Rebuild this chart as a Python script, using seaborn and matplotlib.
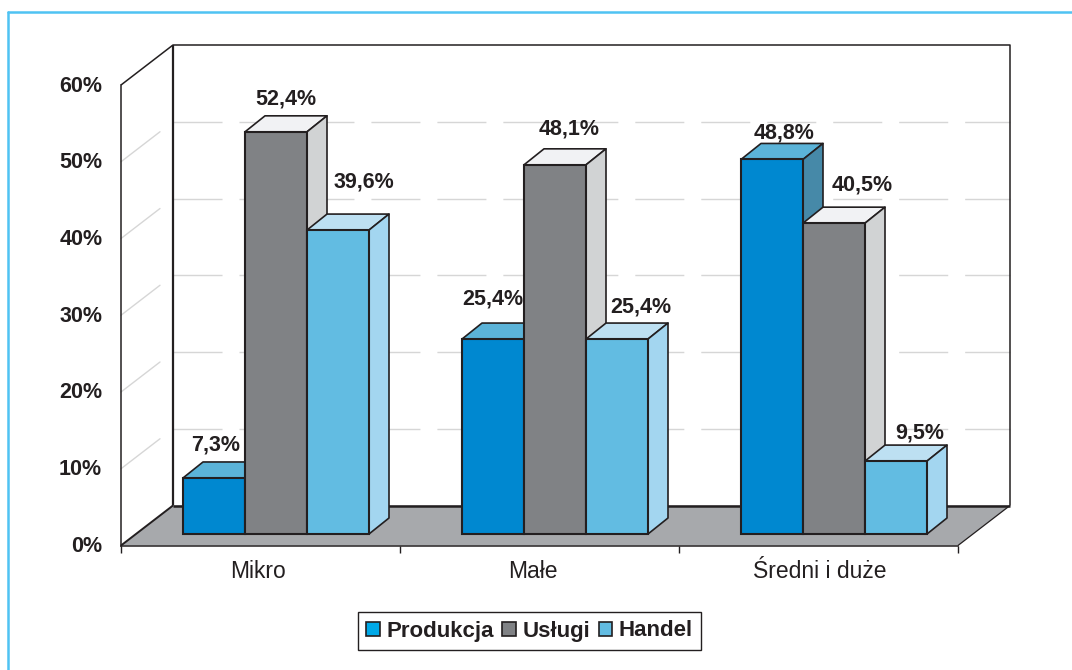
import matplotlib
matplotlib.use("Agg")
import matplotlib.pyplot as plt
from matplotlib.lines import Line2D
from matplotlib.patches import Patch, Polygon
from matplotlib.transforms import ScaledTranslation
import pandas as pd
import seaborn as sns

categories = ["Mikro", "Małe", "Średni i duże"]
series = ["Produkcja", "Usługi", "Handel"]
produkcja = [7.3, 25.4, 48.8]
uslugi = [52.4, 48.1, 40.5]
handel = [39.6, 25.4, 9.5]
value_labels = [["7,3%", "25,4%", "48,8%"],
                ["52,4%", "48,1%", "40,5%"],
                ["39,6%", "25,4%", "9,5%"]]
y_ticks = [0, 10, 20, 30, 40, 50, 60]

# styling
W, H = 1072, 670
INK = "#231F20"
front = ["#0088D0", "#808285", "#62BCE2"]
top = ["#5BB3D8", "#F1F2F4", "#BDE0F2"]
side = ["#4689A8", "#D1D3D4", "#A3D6F0"]
legend_cols = ["#00A9E8", "#808285", "#62BCE2"]
# label offsets from the middle of each bar's front top edge, in pixels
label_offsets = [[(2, 33), (0, 40), (12, 26)],
                 [(10, 33), (14, 36), (28, 38)],
                 [(26, 48), (24, 32), (24, 28)]]
# horizontal nudges of the category labels, in pixels
xlabel_nudge = [-3, -7, 1]

sns.set_theme(style="white")
plt.rcParams["font.family"] = ["Liberation Sans", "DejaVu Sans"]
plt.rcParams["lines.scale_dashes"] = False

fig = plt.figure(figsize=(W / 100, H / 100), dpi=100)
ax = fig.add_axes([121 / W, 1 - 545.5 / H, (958 - 121) / W, (545.5 - 85) / H])

df = pd.DataFrame({"Kategoria": categories, "Produkcja": produkcja,
                   "Usługi": uslugi, "Handel": handel}).melt(
    id_vars="Kategoria", var_name="Sektor", value_name="Udział")
sns.barplot(data=df, x="Kategoria", y="Udział", hue="Sektor", hue_order=series,
            order=categories, palette=front, width=2 / 3, gap=0, legend=False,
            saturation=1, ax=ax, errorbar=None)
ax.set_xlim(-0.5, 2.5)
ax.set_ylim(0, 60)
ax.set_xlabel("")
ax.set_ylabel("")

# depth vectors in data units
px_x = 3 / (958 - 121)
px_y = 60 / (545.5 - 85)
DX, DY = 52 * px_x, 40 * px_y      # depth of the floor
bx, by = 15.5 * px_x, 11.5 * px_y  # bar front offset from chart front
dx, dy = 20 * px_x, 16 * px_y      # bar depth
x0, x1 = -0.5, 2.5

# floor
ax.add_patch(Polygon([(x0, 0), (x1, 0), (x1 + DX, DY), (x0 + DX, DY)], closed=True,
                     fc="#A7A9AC", ec="none", zorder=1, clip_on=False))
# wall grid lines
for v in y_ticks[1:-1]:
    ax.plot([x0 + DX, x1 + DX], [v + DY, v + DY], color="#D6D6D6", lw=1.0, zorder=0.5,
            ls=(0, (35.3, 12.2)), clip_on=False, dash_capstyle="butt")
    ax.plot([x0, x0 + 0.75 * DX], [v, v + 0.75 * DY], color="#D6D6D6", lw=1.0, zorder=0.5,
            clip_on=False)
# wall outline
outline = dict(color=INK, clip_on=False, solid_capstyle="butt")
ax.plot([x0 + DX, x0 + DX], [DY, 60 + DY], lw=1.6, zorder=0.8, **outline)
ax.plot([x0, x0 + DX, x1 + DX, x1 + DX], [60, 60 + DY, 60 + DY, DY], lw=1.1, zorder=0.8, **outline)
ax.plot([x0 + DX, x1 + DX], [DY, DY], lw=1.8, zorder=1.2, **outline)
ax.plot([x0, x0 + DX], [0, DY], lw=1.4, zorder=1.2, **outline)
ax.plot([x1, x1 + DX], [0, DY], lw=0.9, zorder=1.2, **outline)

# 3D bars
z = 2.0
for c in range(len(categories)):
    for s, container in enumerate(ax.containers):
        bar = container.patches[c]
        left = bar.get_x() + bx
        w = bar.get_width()
        h = bar.get_height()
        bar.set_x(left)
        bar.set_y(by)
        bar.set(edgecolor=INK, linewidth=1.5, zorder=z + 0.2, clip_on=False)
        ax.add_patch(Polygon([(left, by + h), (left + w, by + h), (left + w + dx, by + h + dy), (left + dx, by + h + dy)],
                             closed=True, fc=top[s], ec=INK, lw=1.2, zorder=z + 0.1, clip_on=False, joinstyle="round"))
        ax.add_patch(Polygon([(left + w, by), (left + w + dx, by + dy), (left + w + dx, by + h + dy), (left + w, by + h)],
                             closed=True, fc=side[s], ec=INK, lw=1.2, zorder=z + 0.1, clip_on=False, joinstyle="round"))
        ox, oy = label_offsets[s][c]
        ax.annotate(value_labels[s][c], (left + w / 2, by + h), xytext=(ox * 0.72, oy * 0.72),
                    textcoords="offset points", ha="center", va="center", fontsize=15.5,
                    fontweight="bold", color=INK, zorder=50, annotation_clip=False)
        z += 1

# axes
sns.despine(ax=ax, top=True, right=True)
for sp in ("left", "bottom"):
    ax.spines[sp].set(color=INK, linewidth=1.1, zorder=40)
ax.set_yticks(y_ticks, [f"{v}%" for v in y_ticks])
ax.tick_params(axis="y", length=5, width=1, color=INK, pad=8.5, labelsize=15.5, labelcolor=INK)
for t in ax.get_yticklabels():
    t.set_fontweight("bold")
    t.set_transform(t.get_transform() + ScaledTranslation(0, 1.5 / 100, fig.dpi_scale_trans))
ax.set_xticks(range(len(categories)), categories)
ax.tick_params(axis="x", which="major", length=0, pad=10.5, labelsize=16.5, labelcolor=INK)
for t, n in zip(ax.get_xticklabels(), xlabel_nudge):
    t.set_transform(t.get_transform() + ScaledTranslation(n / 100, 0, fig.dpi_scale_trans))
ax.set_xticks([-0.5, 0.5, 1.5, 2.5], minor=True)
ax.tick_params(axis="x", which="minor", bottom=True, length=5, width=1, color=INK)

# legend
handles = [Patch(fc=col, ec=INK, lw=1.2, label=n) for col, n in zip(legend_cols, series)]
leg = ax.legend(handles=handles, ncol=3, loc="center", bbox_to_anchor=((357 + 702) / 2 / W, 1 - 631 / H),
                bbox_transform=fig.transFigure, fancybox=False, framealpha=1, edgecolor=INK,
                prop={"weight": "bold", "size": 16}, handlelength=0.6, handleheight=0.6,
                handletextpad=0.3, columnspacing=0.38, borderpad=0.38, borderaxespad=0)
leg.get_frame().set_linewidth(1.0)
for t in leg.get_texts():
    t.set_color(INK)
leg.set_zorder(60)

# page frame
frame = dict(color="#4FC3F3", lw=1.8, transform=fig.transFigure)
fig.add_artist(Line2D([8 / W, 8 / W], [0, 1 - 12 / H], **frame))
fig.add_artist(Line2D([8 / W, 1], [1 - 12 / H, 1 - 12 / H], **frame))

fig.savefig("out.png", dpi=100, facecolor="white")
